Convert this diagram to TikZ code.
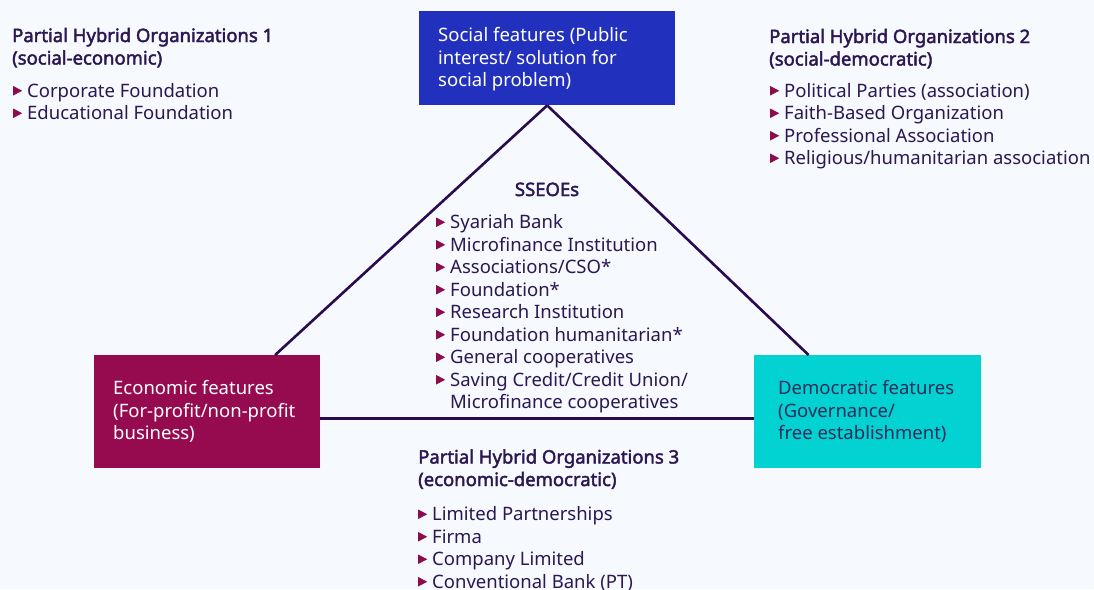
\documentclass[tikz,border=0pt]{standalone}
\usepackage{fontspec}
\setmainfont{Noto Sans}
\newfontfamily\headfont{Noto Sans}[FakeBold=2.2]
\usetikzlibrary{calc}
\definecolor{bg}{HTML}{F6F9FD}
\definecolor{socblue}{HTML}{2231BD}
\definecolor{ecored}{HTML}{960B50}
\definecolor{demcyan}{HTML}{02D2D2}
\definecolor{ink}{HTML}{2C1752}
\definecolor{navy}{HTML}{2A2D5C}
\definecolor{bulcol}{HTML}{8D0B4F}
\definecolor{edge}{HTML}{2A0B4F}
% small list marker
\newcommand\tri{\tikz[baseline=0pt]\fill[bulcol] (0pt,1.5pt) -- (0pt,11pt) -- (9pt,6.25pt) -- cycle;}
\newcommand\itm[1]{\llap{\tri\hspace{5pt}}#1}
\begin{document}
\begin{tikzpicture}[x=1pt,y=-1pt,
  % text nodes are placed by the baseline of their last line
  txt/.style={inner sep=0pt, anchor=base west, align=left, text=ink,
    font=\fontsize{18.5}{22.5}\selectfont},
  hd/.style={txt, font=\headfont\fontsize{18.5}{22.5}\selectfont},
  boxtxt/.style={txt, text=white},
  featbox/.style={draw=none, inner sep=0pt, anchor=north west},
  link/.style={draw=edge, line width=2.6pt}]
\useasboundingbox[fill=bg] (0,0) rectangle (1094,589);

% feature boxes
\node[featbox, fill=socblue, minimum width=256pt, minimum height=94pt] (soc) at (419,11) {};
\node[featbox, fill=ecored, minimum width=226pt, minimum height=113pt] (eco) at (94,355) {};
\node[featbox, fill=demcyan, minimum width=227pt, minimum height=113pt] (dem) at (754,355) {};

% triangle sides
\draw[link] (soc.south) -- ($(eco.north west)!0.80!(eco.north east)$);
\draw[link] (soc.south) -- ($(dem.north west)!0.24!(dem.north east)$);
\coordinate (baseL) at ([yshift=-6.5pt]eco.east);
\draw[link] (baseL) -- (baseL -| dem.west);

% box texts
\node[boxtxt] (soct) at (438,86.5) {Social features (Public\\interest/ solution for\\social problem)};
\node[boxtxt] (ecot) at (113,439.5) {Economic features\\(For-profit/non-profit\\business)};
\node[txt, text=navy] (demt) at (778,439.5) {Democratic features\\(Governance/\\free establishment)};

% partial hybrid 1
\node[hd] (h1) at (12,64.5) {Partial Hybrid Organizations 1\\(social-economic)};
\node[txt] (l1) at (27,119.5) {\itm{Corporate Foundation}\\\itm{Educational Foundation}};

% partial hybrid 2
\node[hd] (h2) at (769,65.5) {Partial Hybrid Organizations 2\\(social-democratic)};
\node[txt] (l2) at (784,164.5) {\itm{Political Parties (association)}\\\itm{Faith-Based Organization}\\\itm{Professional Association}\\\itm{Religious/humanitarian association}};

% SSEOEs
\node[hd, anchor=base] (h0) at (547,196) {SSEOEs};
\node[txt] (l0) at (450,408.5) {\itm{Syariah Bank}\\\itm{Microfinance Institution}\\\itm{Associations/CSO*}\\\itm{Foundation*}\\\itm{Research Institution}\\\itm{Foundation humanitarian*}\\\itm{General cooperatives}\\\itm{Saving Credit/Credit Union/}\\Microfinance cooperatives};

% partial hybrid 3
\node[hd] (h3) at (418,486) {Partial Hybrid Organizations 3\\(economic-democratic)};
\node[txt] (l3) at (432,588) {\itm{Limited Partnerships}\\\itm{Firma}\\\itm{Company Limited}\\\itm{Conventional Bank (PT)}};
\end{tikzpicture}
\end{document}
